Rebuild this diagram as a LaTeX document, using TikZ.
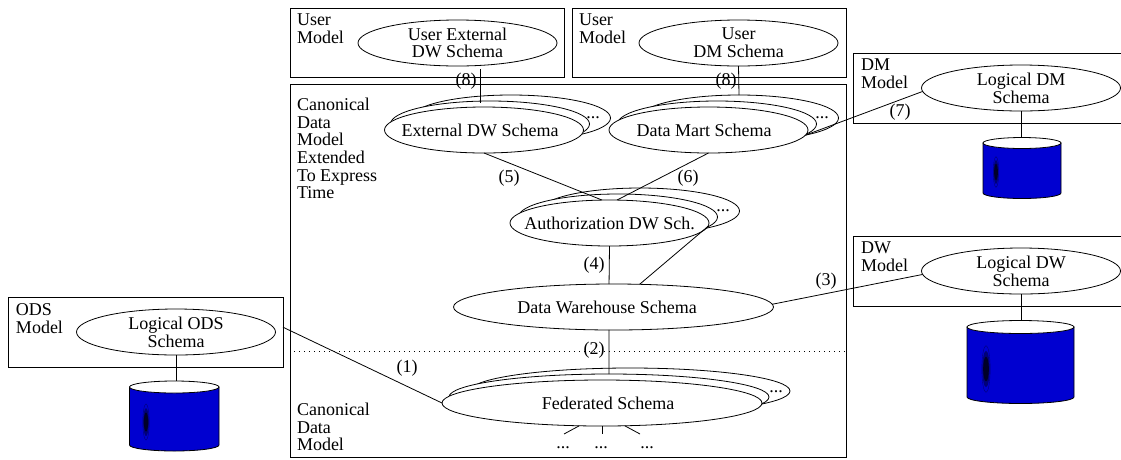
\documentclass[tikz,border=0pt]{standalone}
\usepackage{xcolor}
\usepackage{fontspec}
\setmainfont{Liberation Serif}
\usetikzlibrary{shapes.geometric}
\definecolor{dbblue}{RGB}{0,0,208}
\definecolor{dbring}{RGB}{0,0,120}
\definecolor{dbcore}{RGB}{0,0,40}

\begin{document}
\begin{tikzpicture}[x=1pt,y=-1pt,line width=0.8pt,
	every node/.style={font=\fontsize{18}{17.7}\selectfont,inner sep=0pt,outer sep=0pt},
	schema/.style={draw,ellipse,fill=white,align=center,minimum width=199pt,minimum height=46pt},
	wideschema/.style={schema,minimum width=320pt},
	modelbox/.style={draw,rectangle},
	cubox/.style={modelbox,minimum width=274pt,minimum height=69pt},
	sidebox/.style={modelbox,minimum width=276pt,minimum height=70pt},
	boxtext/.style={anchor=north west,align=left},
	dots/.style={anchor=base}]
	\useasboundingbox (0,0) rectangle (1121,459);
	\clip (0,0) rectangle (1121,459);

	% model boxes
	\node[modelbox,minimum width=556pt,minimum height=373pt] (main) at (568,270.5) {};
	\node[cubox] (userbox1) at (427,42.5) {};
	\node[cubox] (userbox2) at (709,42.5) {};
	\node[sidebox] (dmbox) at (991,88) {};
	\node[sidebox] (dwbox) at (991,271) {};
	\node[modelbox,minimum width=275pt,minimum height=70pt] (odsbox) at (145.5,332) {};

	\node[boxtext] (usertext1) at (297,14) {User\\Model};
	\node[boxtext] (usertext2) at (579,14) {User\\Model};
	\node[boxtext] (dmtext) at (861,59) {DM\\Model};
	\node[boxtext] (dwtext) at (861,242) {DW\\Model};
	\node[boxtext] (odstext) at (16,304) {ODS\\Model};
	\node[boxtext] (cantext1) at (297,98) {Canonical\\Data\\Model\\Extended\\To Express\\Time};
	\node[boxtext] (cantext2) at (297,403) {Canonical\\Data\\Model};

	% schemas
	\node[schema] (userext) at (457.5,43) {User External\hspace{7pt}\\DW Schema\hspace{7pt}};
	\node[schema] (userdm) at (738.5,43) {User\\DM Schema\hspace{5pt}};
	\node[schema] (ext2) at (511,118) {};
	\node[schema] (ext1) at (490,124) {};
	\node[schema] (ext0) at (484,130) {\makebox[0pt]{External DW Schema\hspace{8pt}}};
	\node[schema] (mart2) at (739,118) {};
	\node[schema] (mart1) at (717,124) {};
	\node[schema] (mart0) at (708.5,130) {\makebox[0pt]{Data Mart Schema\hspace{9pt}}};
	\node[schema] (auth2) at (640,211) {};
	\node[schema] (auth1) at (618,217) {};
	\node[schema] (auth0) at (609.5,223) {\makebox[0pt]{Authorization DW Sch.}};
	\node[wideschema] (dw) at (613.5,307) {Data Warehouse Schema\hspace{13pt}};
	\node[wideschema] (fed2) at (630,391) {};
	\node[wideschema] (fed1) at (609,397) {};
	\node[wideschema] (fed0) at (602,403) {\hspace{12pt}Federated Schema};
	\node[schema] (logdm) at (1021,88) {Logical DM\hspace{2pt}\\Schema\hspace{4pt}};
	\node[schema] (logdw) at (1021,271) {Logical DW\hspace{2pt}\\Schema\hspace{4pt}};
	\node[schema] (logods) at (176,332) {Logical ODS\hspace{12pt}\\Schema\hspace{6pt}};

	% databases
	\foreach \db/\cx/\top/\bot/\rx/\ry/\sx/\sy/\sz in {odsdb/174.25/387/445/44.75/6/146/422/1, dmdb/1022/143/193/39/5.5/996/172/0.85, dwdb/1020.5/327/397/53.5/6.5/986/369/1.3} {
		\draw[fill=dbblue] (\cx-\rx,\top) -- (\cx-\rx,\bot) arc [start angle=180,end angle=360,x radius=\rx pt,y radius=\ry pt] -- (\cx+\rx,\top) -- cycle;
		\draw[fill=white] (\cx,\top) ellipse [x radius=\rx pt,y radius=\ry pt];
		\coordinate (\db) at (\cx,\top-\ry);
		\draw[dbring,line width=0.4pt] (\sx,\sy) ellipse [x radius=\sz*3.2pt,y radius=\sz*18pt];
		\fill[dbring] (\sx,\sy) ellipse [x radius=\sz*2.8pt,y radius=\sz*14pt];
		\fill[dbcore] (\sx,\sy) ellipse [x radius=\sz*2.2pt,y radius=\sz*9.5pt];
	}

	% free ends
	\coordinate (topa) at (480,69);
	\coordinate (topb) at (480,103);
	\coordinate (dota) at (294,351);
	\coordinate (dotb) at (846,351);
	\coordinate (tick1) at (564,434);
	\coordinate (tick2) at (602,434);
	\coordinate (tick3) at (640,434);

	\draw	(topa) edge (topb)
			(userdm.south) edge (mart2.north)
			(ext0.south) edge (auth0.108)
			(mart0.south) edge (auth0.72)
			(auth0.south) edge (dw.101)
			(auth0.-2) edge (dw.41)
			(dw.-101) edge (fed1.north)
			(dw.1) edge (logdw.182)
			(mart0.-3) edge (logdm.182)
			(odsbox.2) edge (fed0.west)
			(logdm.south) edge (logdm.south |- dmdb)
			(logdw.south) edge (logdw.south |- dwdb)
			(logods.south) edge (logods.south |- odsdb)
			(fed0.-135) edge (tick1)
			(fed0.south) edge (tick2)
			(fed0.-45) edge (tick3);
	\draw[dash pattern=on 1pt off 4pt] (dota) -- (dotb);

	% step labels
	\node (num1) at (407,368) {(1)};
	\node (num2) at (594,350) {(2)};
	\node (num3) at (826,281) {(3)};
	\node (num4) at (594,265) {(4)};
	\node (num5) at (509,178) {(5)};
	\node (num6) at (688,178) {(6)};
	\node (num7) at (900,112) {(7)};
	\node (num8a) at (466,81) {(8)};
	\node (num8b) at (726,81) {(8)};

	\node[dots] (more1) at (593,118) {...};
	\node[dots] (more2) at (822,118) {...};
	\node[dots] (more3) at (723,211) {...};
	\node[dots] (more4) at (776,392) {...};
	\node[dots] (more5) at (563,448) {...};
	\node[dots] (more6) at (601,448) {...};
	\node[dots] (more7) at (647,448) {...};
\end{tikzpicture}
\end{document}
